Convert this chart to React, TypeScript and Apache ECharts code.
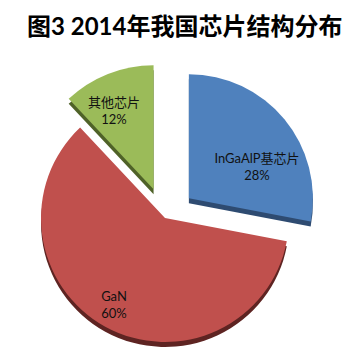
import React, { useEffect, useRef } from "react";
import * as echarts from "echarts";

// ---- data ----
const titleText = "图3 2014年我国芯片结构分布";
const categories = ["InGaAlP基芯片", "GaN", "其他芯片"];
const shares = [28, 60, 12];
const exploded = [true, false, true];

// ---- styles / layout ----
const faceColors = ["#4F81BD", "#C0504D", "#9BBB59"];
const sideColors = ["#2E4B71", "#5E2422", "#4F6228"];
const labelPos: Record<number, [number, number]> = {
  0: [257, 166],
  1: [114, 304],
  2: [114, 110],
};
const CENTER: [number, number] = [165, 218];
const RADIUS = 124;
const DEPTH = 5;
const OFFSET = 31;
const FONT = "Lato, 'Noto Sans CJK SC', sans-serif";

export default function App() {
  const ref = useRef<HTMLDivElement>(null);
  useEffect(() => {
    if (!ref.current) return;
    const chart = echarts.init(ref.current, undefined, { renderer: "svg" });
    const mk = (colors: string[]) =>
      categories.map((name, i) => ({
        name,
        value: shares[i],
        selected: exploded[i],
        itemStyle: { color: colors[i] },
      }));
    const base = {
      type: "pie",
      silent: true,
      radius: RADIUS,
      startAngle: 90,
      clockwise: true,
      selectedMode: "multiple",
      selectedOffset: OFFSET,
      emphasis: { disabled: true },
      itemStyle: { borderWidth: 0 },
      select: { itemStyle: { borderWidth: 0 } },
      labelLine: { show: false },
    };
    chart.setOption({
      animation: false,
      backgroundColor: "#ffffff",
      title: {
        text: titleText,
        left: 27,
        top: 13,
        padding: 0,
        textStyle: {
          fontFamily: FONT,
          fontSize: 24,
          fontWeight: "bold",
          color: "#000000",
        },
      },
      series: [
        {
          ...base,
          z: 1,
          center: [CENTER[0], CENTER[1] + DEPTH],
          label: { show: false },
          data: mk(sideColors),
        },
        {
          ...base,
          z: 2,
          center: CENTER,
          label: { show: false },
          data: mk(faceColors),
        },
        {
          type: "pie",
          silent: true,
          z: 3,
          center: CENTER,
          radius: RADIUS,
          startAngle: 90,
          clockwise: true,
          selectedMode: false,
          emphasis: { disabled: true },
          itemStyle: { color: "rgba(0,0,0,0)", borderWidth: 0 },
          label: {
            show: true,
            position: "inside",
            formatter: "{b}\n{c}%",
            fontFamily: FONT,
            fontSize: 13,
            lineHeight: 17,
            color: "#111111",
            align: "center",
          },
          labelLine: { show: false },
          labelLayout: (params: any) => {
            const p = labelPos[params.dataIndex];
            return { x: p[0], y: p[1], align: "center", verticalAlign: "middle" };
          },
          data: categories.map((name, i) => ({ name, value: shares[i] })),
        },
      ],
    });
    return () => chart.dispose();
  }, []);
  return (
    <div
      ref={ref}
      style={{ position: "fixed", left: 0, top: 0, width: 359, height: 357 }}
    />
  );
}
